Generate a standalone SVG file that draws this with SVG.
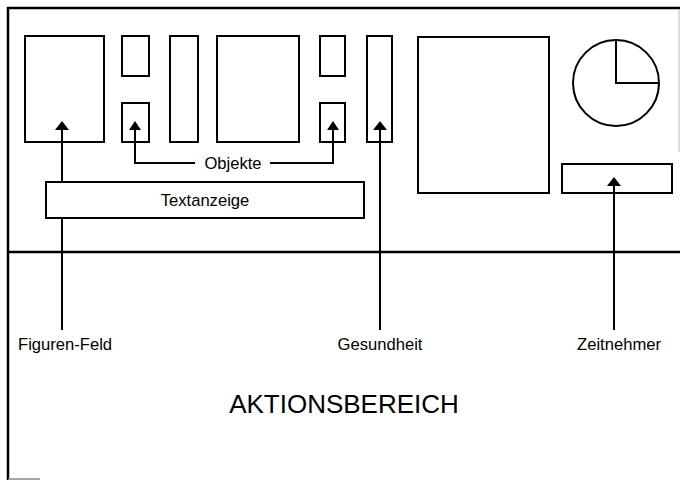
<svg xmlns="http://www.w3.org/2000/svg" width="680" height="480" viewBox="0 0 680 480">
<style>
.box{fill:none;stroke:#000;stroke-width:2}
.wbox{fill:#fff;stroke:#000;stroke-width:2}
.frame{fill:none;stroke:#000;stroke-width:2.5}
.con{fill:none;stroke:#000;stroke-width:2}
.head{fill:#000}
.lbl{font-family:"Liberation Sans",Arial,Helvetica,sans-serif;font-size:16.6px;fill:#000}
.big{font-family:"Liberation Sans",Arial,Helvetica,sans-serif;font-size:26px;fill:#000}
</style>
<rect width="680" height="480" fill="#fff"/>
<g id="frame">
<path class="frame" d="M8,480 V8 H680"/>
<line x1="679" y1="9" x2="679" y2="152" stroke="#bbb" stroke-width="1"/>
<line x1="8" y1="479" x2="40" y2="479" stroke="#888" stroke-width="1.5"/>
<line class="frame" x1="8" y1="252" x2="680" y2="252"/>
</g>
<g id="figuren-feld-box"><rect class="box" x="25" y="36" width="79" height="106"/></g>
<g id="obj-left-top"><rect class="box" x="122" y="36" width="27" height="40"/></g>
<g id="obj-left-bottom"><rect class="box" x="122" y="103" width="27" height="39"/></g>
<g id="tall-bar"><rect class="box" x="170" y="36" width="28" height="106"/></g>
<g id="middle-box"><rect class="box" x="217" y="36" width="82" height="106"/></g>
<g id="obj-right-top"><rect class="box" x="320" y="36" width="25" height="40"/></g>
<g id="obj-right-bottom"><rect class="box" x="320" y="103" width="25" height="39"/></g>
<g id="gesundheit-bar"><rect class="box" x="367" y="36" width="25" height="106"/></g>
<g id="big-box"><rect class="box" x="418" y="37" width="131" height="156"/></g>
<g id="clock">
<circle class="box" cx="616" cy="83" r="43"/>
<path class="box" d="M616,40 V83 H659"/>
</g>
<g id="zeitnehmer-box"><rect class="box" x="562" y="164" width="110" height="29"/></g>
<g id="connectors">
<path class="con" d="M62,128 V330"/>
<path class="head" d="M62,121 L55,130 H69 Z"/>
<path class="con" d="M135,128 V163 H195"/>
<path class="con" d="M270,163 H333 V128"/>
<path class="head" d="M135,121 L129,130 H141 Z"/>
<path class="head" d="M333,121 L327,130 H339 Z"/>
<path class="con" d="M380,128 V330"/>
<path class="head" d="M380,121 L373,130 H387 Z"/>
<path class="con" d="M614,184 V330"/>
<path class="head" d="M614,177 L607,186 H621 Z"/>
</g>
<g id="textanzeige">
<rect class="wbox" x="46" y="182" width="318" height="36"/>
<text class="lbl" x="205" y="206" text-anchor="middle">Textanzeige</text>
</g>
<g id="labels">
<text class="lbl" x="233" y="169" text-anchor="middle">Objekte</text>
<text class="lbl" x="18" y="350">Figuren-Feld</text>
<text class="lbl" x="380" y="350" text-anchor="middle">Gesundheit</text>
<text class="lbl" x="619" y="350" text-anchor="middle">Zeitnehmer</text>
<text class="big" x="344" y="413" text-anchor="middle">AKTIONSBEREICH</text>
</g>
</svg>
